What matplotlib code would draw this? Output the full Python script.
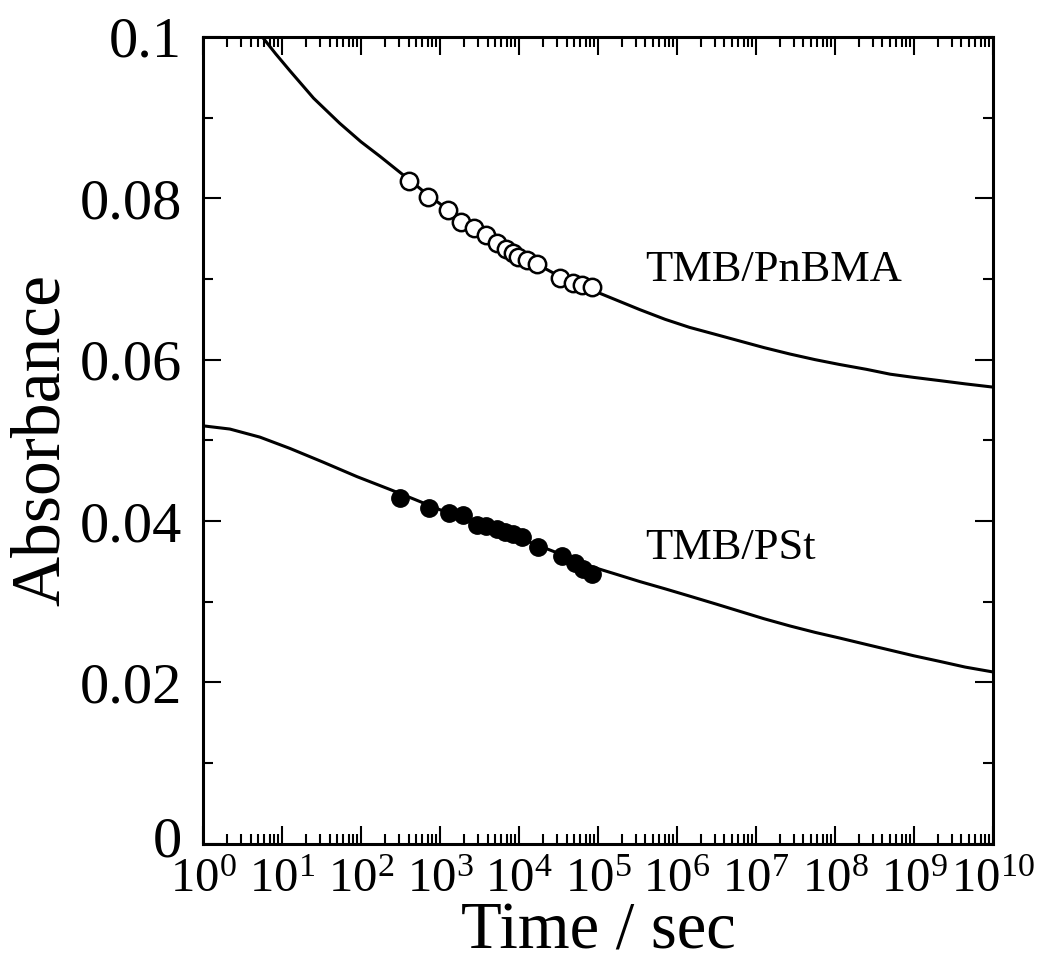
import numpy as np
import matplotlib
matplotlib.use("Agg")
import matplotlib.pyplot as plt
from matplotlib.ticker import LogLocator, MultipleLocator, FixedLocator
from matplotlib.transforms import ScaledTranslation

plt.rcParams['font.family'] = ['Liberation Serif', 'DejaVu Serif']
plt.rcParams['mathtext.fontset'] = 'custom'
plt.rcParams['mathtext.rm'] = 'Liberation Serif'
plt.rcParams['mathtext.it'] = 'Liberation Serif:italic'

# Open circles: TMB/PnBMA (log10 time, absorbance)
pnbma_logt = [2.61, 2.85, 3.10, 3.27, 3.43, 3.58, 3.72, 3.84, 3.92, 3.99, 4.10, 4.23, 4.52, 4.68, 4.80, 4.92]
pnbma_abs = [0.0821, 0.0801, 0.0785, 0.0771, 0.0763, 0.0754, 0.0744, 0.0737, 0.0732, 0.0727,
             0.0723, 0.0718, 0.0701, 0.0695, 0.0692, 0.0690]

# Filled circles: TMB/PSt
pst_logt = [2.49, 2.86, 3.11, 3.29, 3.47, 3.58, 3.72, 3.82, 3.92, 4.04, 4.24, 4.54, 4.71, 4.81, 4.92]
pst_abs = [0.0429, 0.0416, 0.0410, 0.0407, 0.0395, 0.0394, 0.0390, 0.0386, 0.0384, 0.0380,
           0.0368, 0.0357, 0.0348, 0.0341, 0.0334]

# Fitted curves
fit_up_logt = [0.75, 0.92, 1.10, 1.40, 1.73, 2.00, 2.24, 2.61, 2.85, 3.10, 3.35, 3.58, 3.85, 4.10,
               4.52, 5.03, 5.53, 5.85, 6.16, 6.50, 6.80, 7.10, 7.43, 7.75, 8.06, 8.40, 8.70, 9.00,
               9.33, 9.65, 10.0]
fit_up_abs = [0.1000, 0.0979, 0.0958, 0.0924, 0.0893, 0.0870, 0.0852, 0.0823, 0.0804, 0.0786,
              0.0770, 0.0755, 0.0739, 0.0725, 0.0703, 0.0682, 0.0662, 0.0650, 0.0640, 0.0631,
              0.0623, 0.0615, 0.0607, 0.0600, 0.0594, 0.0588, 0.0582, 0.0578, 0.0574, 0.0570,
              0.0566]

fit_lo_logt = [0.0, 0.34, 0.72, 1.10, 1.52, 1.95, 2.37, 2.70, 3.00, 3.50, 4.00, 4.50, 4.90, 5.20,
               5.53, 5.85, 6.16, 6.50, 6.80, 7.10, 7.43, 7.75, 8.06, 8.40, 8.70, 9.00, 9.33, 9.65,
               10.0]
fit_lo_abs = [0.0518, 0.0514, 0.0504, 0.0490, 0.0473, 0.0455, 0.0439, 0.0426, 0.0414, 0.0397,
              0.0379, 0.0360, 0.0344, 0.0335, 0.0325, 0.0316, 0.0307, 0.0297, 0.0288, 0.0279,
              0.0270, 0.0262, 0.0255, 0.0247, 0.0240, 0.0233, 0.0226, 0.0219, 0.0213]

xticks_exp = list(range(0, 11))
yticks = [0, 0.02, 0.04, 0.06, 0.08, 0.1]
ytick_labels = ['0', '0.02', '0.04', '0.06', '0.08', '0.1']

fig = plt.figure(figsize=(10.63, 9.71), dpi=100)
ax = fig.add_axes([0.191, 0.131, 0.743, 0.831])

t = lambda L: [10.0 ** v for v in L]

ax.plot(t(fit_up_logt), fit_up_abs, color='black', lw=2.2, zorder=2, solid_joinstyle='round')
ax.plot(t(fit_lo_logt), fit_lo_abs, color='black', lw=2.2, zorder=2, solid_joinstyle='round')
ax.plot(t(pnbma_logt), pnbma_abs, linestyle='none', marker='o', ms=12.5, mfc='white',
        mec='black', mew=1.8, zorder=3)
ax.plot(t(pst_logt), pst_abs, linestyle='none', marker='o', ms=12.5, mfc='black',
        mec='black', mew=1.0, zorder=3)

ax.set_xscale('log')
ax.set_xlim(1, 1e10)
ax.set_ylim(0, 0.1)

ax.xaxis.set_major_locator(FixedLocator([10.0 ** e for e in xticks_exp]))
ax.xaxis.set_minor_locator(LogLocator(base=10, subs=np.arange(2, 10), numticks=100))
ax.set_xticklabels([r'$10^{%d}$' % e for e in xticks_exp])
ax.set_yticks(yticks)
ax.set_yticklabels(ytick_labels)
ax.yaxis.set_minor_locator(MultipleLocator(0.01))

ax.tick_params(which='both', direction='in', top=True, right=True, width=1.5)
ax.tick_params(which='major', length=13)
ax.tick_params(which='minor', length=7)
ax.tick_params(axis='y', which='major', labelsize=42, pad=15)
ax.tick_params(axis='x', which='major', labelsize=35, pad=10)

# lift the "0" label a little so it clears the 10^0 label, as in the reference
zero_lbl = ax.get_yticklabels()[0]
zero_lbl.set_transform(zero_lbl.get_transform() + ScaledTranslation(0, 5 / 72, fig.dpi_scale_trans))

for s in ax.spines.values():
    s.set_linewidth(2.2)

ax.set_xlabel('Time / sec', fontsize=48, labelpad=0)
ax.set_ylabel('Absorbance', fontsize=50, labelpad=4)

ax.text(10 ** 5.6, 0.0711, 'TMB/PnBMA', fontsize=32, va='center', ha='left')
ax.text(10 ** 5.6, 0.0366, 'TMB/PSt', fontsize=32, va='center', ha='left')

fig.savefig('out.png', dpi=100)
